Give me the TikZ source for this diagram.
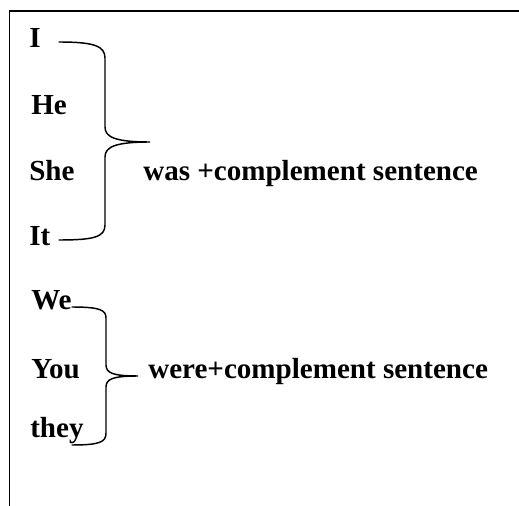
\documentclass[tikz,border=0pt]{standalone}
\usepackage{fontspec}
\setmainfont{Liberation Serif}

\tikzset{
  word/.style={anchor=base west, inner sep=0pt, font=\fontsize{21.8}{26}\selectfont\bfseries},
  curly/.style={line width=1.1pt, line cap=round},
  frame/.style={line width=1.1pt}
}

\begin{document}
\begin{tikzpicture}[x=0.75pt, y=-0.75pt]
  \useasboundingbox (0,0) rectangle (519,506);
  \draw[frame] (9.5,506) -- (9.5,11) -- (519,11);
  % first group
  \node[word] (i)   at (29,48)  {I};
  \node[word] (he)  at (31,115) {He};
  \node[word] (she) at (29,181) {She};
  \node[word] (it)  at (29,246) {It};
  \node[word] (was) at (143,181) {was +complement sentence};
  % second group
  \node[word] (we)   at (31,310) {We};
  \node[word] (you)  at (31,379) {You};
  \node[word] (they) at (30,438) {they};
  \node[word] (were) at (148,379) {were+complement sentence};

  \coordinate (b1top) at (59,42);
  \coordinate (b1tip) at (150,142);
  \coordinate (b1bot) at (59,240);
  \coordinate (b2top) at (72,307);
  \coordinate (b2tip) at (138,376);
  \coordinate (b2bot) at (72,445);

  \draw[curly] (b1top) .. controls +(35,0) and +(0,-12) .. (105,58)
    -- (105,127) .. controls +(0,10) and +(-35,0) .. (b1tip)
    .. controls +(-35,0) and +(0,-10) .. (105,157)
    -- (105,225) .. controls +(0,12) and +(35,0) .. (b1bot);
  \draw[curly] (b2top) .. controls +(28,0) and +(0,-8) .. (106,318)
    -- (106,365) .. controls +(0,8) and +(-25,0) .. (b2tip)
    .. controls +(-25,0) and +(0,-8) .. (106,387)
    -- (106,433) .. controls +(0,9) and +(28,0) .. (b2bot);
\end{tikzpicture}
\end{document}
